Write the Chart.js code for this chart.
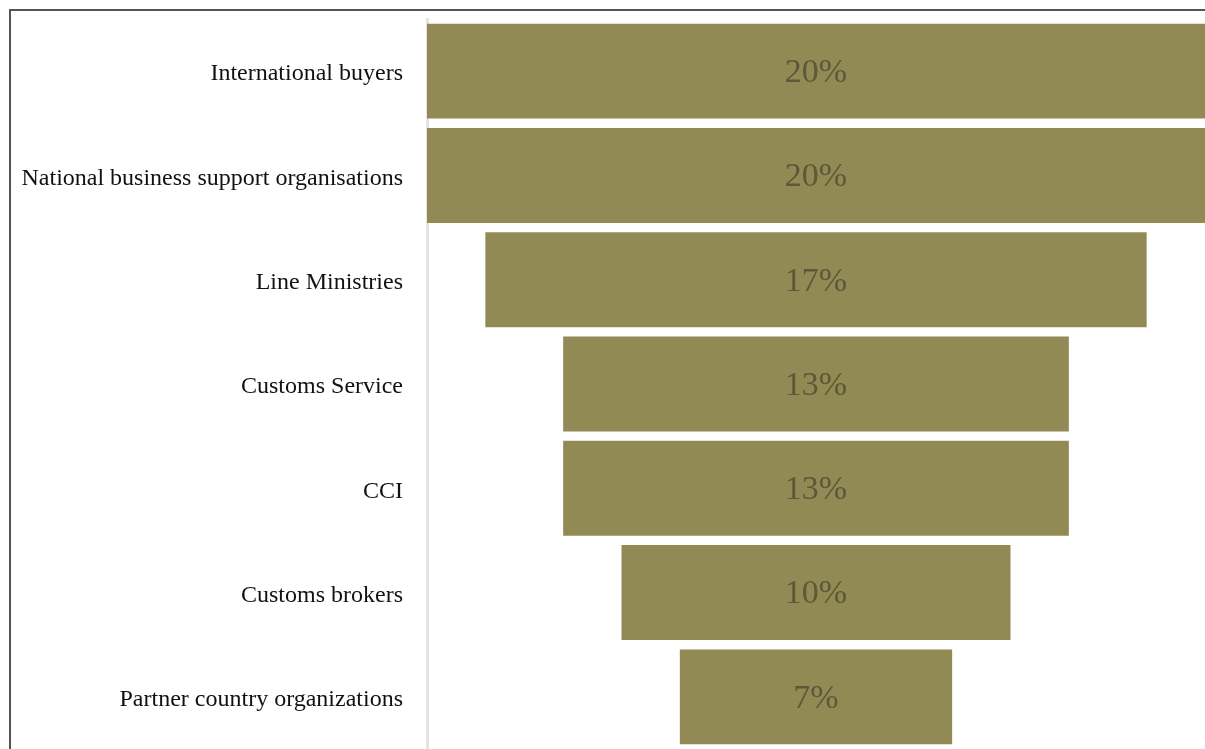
<!DOCTYPE html>
<html>
<head>
<meta charset="utf-8">
<script src="https://cdn.jsdelivr.net/npm/chart.js@4/dist/chart.umd.min.js"></script>
<style>
	html, body {
		margin: 0;
		padding: 0;
		background: #fff;
		overflow: hidden;
	}
	#frame {
		position: absolute;
		left: 9px;
		top: 9px;
		width: 1196px;
		height: 740px;
		border-left: 2px solid #555;
		border-top: 2px solid #555;
	}
	#frame canvas {
		display: block;
	}
</style>
</head>
<body>
<div id="frame">
	<canvas id="funnel" width="1194" height="738"></canvas>
</div>
<script>
// stakeholders, top to bottom
const labels = [
	"International buyers",
	"National business support organisations",
	"Line Ministries",
	"Customs Service",
	"CCI",
	"Customs brokers",
	"Partner country organizations",
];
// share of respondents, %
const shares = [20, 20, 17, 13, 13, 10, 7];

// centre every bar on zero so the bars stack into a funnel
const spans = shares.map((v) => [-v / 2, v / 2]);

// percentage written in the middle of each bar
const barValues = {
	id: "barValues",
	afterDatasetsDraw(chart) {
		const ctx = chart.ctx;
		const meta = chart.getDatasetMeta(0);
		ctx.save();
		ctx.font = "34px 'Liberation Serif'";
		ctx.fillStyle = "#5c5839";
		ctx.textAlign = "center";
		ctx.textBaseline = "middle";
		meta.data.forEach((bar, i) => {
			const c = bar.getCenterPoint();
			ctx.fillText(shares[i] + "%", c.x, c.y + 2);
		});
		ctx.restore();
	},
};

new Chart(document.getElementById("funnel"), {
	type: "bar",
	data: {
		labels: labels,
		datasets: [
			{
				data: spans,
				backgroundColor: "#928a55",
				borderWidth: 0,
				barPercentage: 0.91,
				categoryPercentage: 1,
			},
		],
	},
	options: {
		indexAxis: "y",
		responsive: false,
		animation: false,
		layout: {
			padding: { top: 8, right: 0, bottom: 0, left: 0 },
		},
		scales: {
			x: {
				display: false,
				min: -10,
				max: 10,
			},
			y: {
				afterFit(scale) {
					// fixed label column, no extra room above/below the bars
					scale.width = 416;
					scale.paddingTop = 0;
					scale.paddingBottom = 0;
				},
				grid: {
					display: false,
				},
				border: {
					display: true,
					color: "#e4e4e4",
					width: 3,
				},
				ticks: {
					padding: 16,
					labelOffset: 3,
					color: "#111",
					font: {
						family: "'Liberation Serif'",
						size: 24,
					},
				},
			},
		},
		plugins: {
			legend: { display: false },
			tooltip: { enabled: false },
		},
	},
	plugins: [barValues],
});
</script>
</body>
</html>
